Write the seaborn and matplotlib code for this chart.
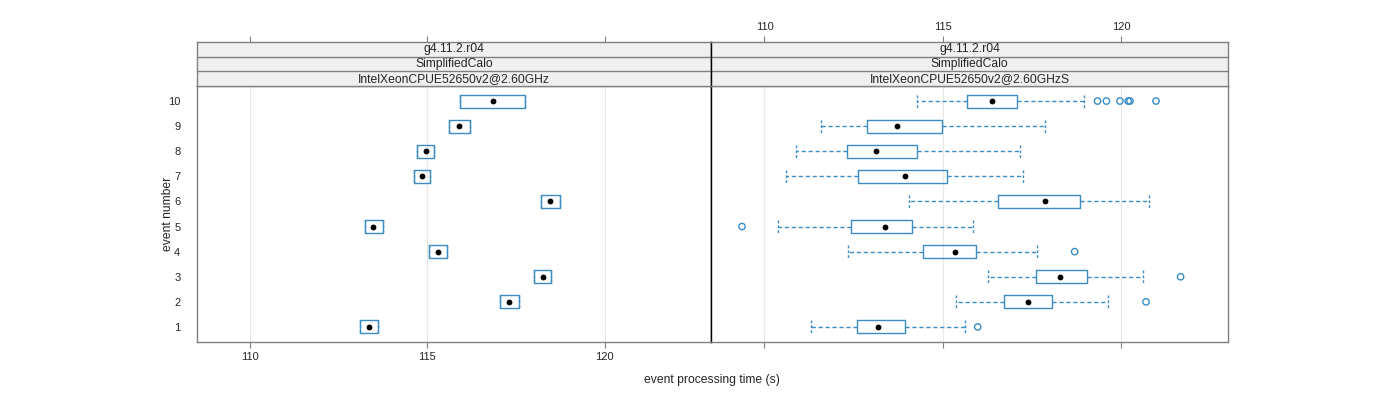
import matplotlib
matplotlib.use("Agg")
import matplotlib.pyplot as plt
import numpy as np
import pandas as pd
import seaborn as sns

# ---------------- data ----------------
events = [str(i) for i in range(1, 11)]
order = events[::-1]  # 10 on top

strip_left = ["g4.11.2.r04", "SimplifiedCalo", "IntelXeonCPUE52650v2@2.60GHz"]
strip_right = ["g4.11.2.r04", "SimplifiedCalo", "IntelXeonCPUE52650v2@2.60GHzS"]

# left panel: five-number summaries per event (events 1..10)
left_lo = [113.09, 117.06, 118.00, 115.04, 113.23, 118.21, 114.63, 114.71, 115.60, 115.91]
left_q1 = [113.09, 117.06, 118.00, 115.04, 113.23, 118.21, 114.63, 114.71, 115.60, 115.91]
left_med = [113.34, 117.31, 118.25, 115.30, 113.46, 118.47, 114.85, 114.95, 115.89, 116.84]
left_q3 = [113.60, 117.58, 118.50, 115.56, 113.74, 118.74, 115.08, 115.19, 116.19, 117.76]
left_hi = [113.60, 117.58, 118.50, 115.56, 113.74, 118.74, 115.08, 115.19, 116.19, 117.76]

# right panel
right_lo = [111.31, 115.38, 116.28, 112.34, 110.38, 114.05, 110.61, 110.87, 111.59, 114.27]
right_q1 = [112.59, 116.72, 117.62, 114.44, 112.43, 116.56, 112.62, 112.31, 112.88, 115.68]
right_med = [113.19, 117.40, 118.30, 115.34, 113.38, 117.88, 113.93, 113.12, 113.71, 116.37]
right_q3 = [113.95, 118.07, 119.04, 115.94, 114.14, 118.84, 115.11, 114.27, 114.98, 117.08]
right_hi = [115.62, 119.63, 120.61, 117.65, 115.86, 120.78, 117.24, 117.18, 117.87, 118.97]

right_out_event = ["1", "2", "3", "4", "5", "10", "10", "10", "10", "10", "10"]
right_out_value = [115.98, 120.70, 121.67, 118.70, 109.37, 119.34, 119.59, 119.97, 120.20, 120.25, 120.98]

x_ticks = [110, 115, 120]
x_range = (108.5, 123.0)

BLUE = "#3b8dc4"
GRAY = "#808080"

def five_df(lo, q1, med, q3, hi):
    rows = []
    for e, a, b, c, d, f in zip(events, lo, q1, med, q3, hi):
        for v in (a, b, c, d, f):
            rows.append({"event": e, "time": v})
    return pd.DataFrame(rows)

sns.set_style("white")
plt.rcParams["font.family"] = ["Liberation Sans", "DejaVu Sans"]

fig = plt.figure(figsize=(14, 4), dpi=100)
W, H = 1400.0, 400.0

panels = [
    (197, 711, (left_lo, left_q1, left_med, left_q3, left_hi), None, strip_left, "bottom"),
    (711, 1228, (right_lo, right_q1, right_med, right_q3, right_hi),
     (right_out_event, right_out_value), strip_right, "top"),
]

for idx, (x0, x1, stats, outl, strips, labside) in enumerate(panels):
    ax = fig.add_axes([x0 / W, (H - 342) / H, (x1 - x0) / W, 256 / H])
    df = five_df(*stats)
    sns.boxplot(data=df, x="time", y="event", order=order, orient="h",
                whis=(0, 100), fill=False, color=BLUE, linewidth=1.0,
                width=0.52, showfliers=False, ax=ax,
                medianprops={"visible": False},
                whiskerprops={"linestyle": (0, (3, 2))},
                capprops={"linestyle": (0, (2, 1.5))},
                capwidths=0.52)
    med_df = pd.DataFrame({"event": events, "time": stats[2]})
    sns.stripplot(data=med_df, x="time", y="event", order=order, orient="h",
                  jitter=False, color="black", size=4.2, linewidth=0,
                  ax=ax, zorder=6)
    if outl is not None:
        out_df = pd.DataFrame({"event": outl[0], "time": outl[1]})
        sns.stripplot(data=out_df, x="time", y="event", order=order, orient="h",
                      jitter=False, color=BLUE, size=4.6, linewidth=1.0,
                      facecolor="none", edgecolor=BLUE, ax=ax, zorder=6)
    ax.set_xlim(*x_range)
    ax.set_ylim(9.6, -0.6)
    ax.set_xticks(x_ticks)
    ax.set_axisbelow(True)
    ax.xaxis.grid(True, color="#e8e8e8", linewidth=0.9)
    ax.yaxis.grid(False)
    ax.set_xlabel("")
    ax.set_ylabel("")
    ax.tick_params(axis="x", direction="out", length=4, width=0.8, color=GRAY,
                   labelsize=8, pad=3, bottom=True,
                   labelbottom=(labside == "bottom"))
    if idx == 0:
        ax.tick_params(axis="y", length=0, labelsize=8, pad=12)
    else:
        ax.tick_params(axis="y", length=0, labelleft=False)
        ax.set_yticklabels([])
    for s in ax.spines.values():
        s.set_color(GRAY)
        s.set_linewidth(1.0)
    if idx == 0:
        ax.spines["right"].set_color("black")
    else:
        ax.spines["left"].set_color("black")

    # strips
    sax = fig.add_axes([x0 / W, (H - 86) / H, (x1 - x0) / W, 44 / H])
    sax.set_facecolor("#f0f0f0")
    sax.set_xlim(*x_range)
    sax.set_ylim(0, 3)
    for yy in (1, 2):
        sax.axhline(yy, color=GRAY, linewidth=1.0)
    for i, t in enumerate(strips):
        sax.text(np.mean(x_range), 2.5 - i, t, ha="center", va="center",
                 fontsize=8.7)
    sax.set_yticks([])
    sax.set_xticks(x_ticks)
    sax.tick_params(axis="x", direction="out", length=4, width=0.8, color=GRAY,
                    labelsize=8, pad=3, bottom=False, labelbottom=False,
                    top=True, labeltop=(labside == "top"))
    for s in sax.spines.values():
        s.set_color(GRAY)
        s.set_linewidth(1.0)
    if idx == 0:
        sax.spines["right"].set_color("black")
    else:
        sax.spines["left"].set_color("black")

fig.text(712 / W, 1 - 380 / H, "event processing time (s)", ha="center",
         va="center", fontsize=8.7)
fig.text(168 / W, 1 - 214 / H, "event number", ha="center", va="center",
         rotation=90, fontsize=8.7)

fig.savefig("out.png", dpi=100)
